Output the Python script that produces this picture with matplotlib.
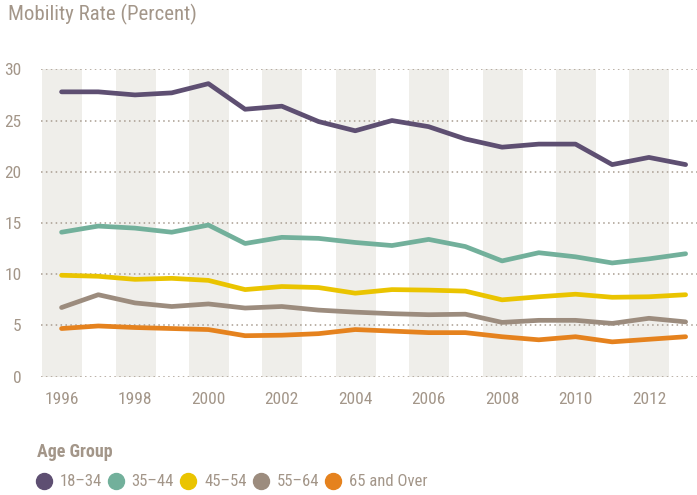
import matplotlib
matplotlib.use("Agg")
import matplotlib.pyplot as plt
from matplotlib.lines import Line2D

years = list(range(1996, 2014))
groups = ["18–34", "35–44", "45–54", "55–64", "65 and Over"]
rate_18_34 = [27.8, 27.8, 27.5, 27.7, 28.6, 26.1, 26.4, 24.9, 24.0, 25.0,
              24.4, 23.2, 22.4, 22.7, 22.7, 20.7, 21.4, 20.7]
rate_35_44 = [14.1, 14.7, 14.5, 14.1, 14.8, 13.0, 13.6, 13.5, 13.1, 12.8,
              13.4, 12.7, 11.3, 12.1, 11.7, 11.1, 11.5, 12.0]
rate_45_54 = [9.9, 9.8, 9.5, 9.6, 9.4, 8.5, 8.8, 8.7, 8.15, 8.5,
              8.45, 8.35, 7.5, 7.8, 8.05, 7.75, 7.8, 8.0]
rate_55_64 = [6.75, 8.0, 7.2, 6.85, 7.1, 6.7, 6.85, 6.5, 6.3, 6.15,
              6.05, 6.1, 5.3, 5.5, 5.5, 5.2, 5.7, 5.35]
rate_65_up = [4.7, 4.95, 4.8, 4.7, 4.6, 4.0, 4.05, 4.2, 4.6, 4.45,
              4.3, 4.3, 3.9, 3.6, 3.9, 3.4, 3.65, 3.9]
series = [rate_18_34, rate_35_44, rate_45_54, rate_55_64, rate_65_up]
colors = ["#5e4f72", "#72b09b", "#eac400", "#9c8c7e", "#e5821e"]
xticks = list(range(1996, 2013, 2))
yticks = [0, 5, 10, 15, 20, 25, 30]

txt = "#a39689"
band = "#efeeea"
plt.rcParams["font.family"] = ["Roboto Condensed", "Open Sans Condensed",
                               "DejaVu Sans"]
plt.rcParams["font.stretch"] = "condensed"

fig = plt.figure(figsize=(6.97, 4.95), dpi=100)
ax = fig.add_axes([41 / 697, 0.239, 1 - 41 / 697, 0.621])

# shaded columns behind even years
for yr in xticks:
    ax.axvspan(yr - 0.53, yr + 0.56, color=band, lw=0, zorder=0)

for y in yticks:
    ax.axhline(y, color="#a89c90", lw=1.1, ls=(0, (1, 2.2)), zorder=1)

for vals, c in zip(series, colors):
    ax.plot(years, vals, color=c, lw=3.4, solid_capstyle="round",
            solid_joinstyle="round", zorder=3)

ax.set_xlim(1995.44, 2013.31)
ax.set_ylim(0, 30)
ax.set_xticks(xticks)
ax.set_yticks(yticks)
ax.tick_params(axis="both", length=0, labelsize=12.5, colors=txt)
ax.tick_params(axis="x", pad=11)
ax.tick_params(axis="y", pad=14)
for s in ax.spines.values():
    s.set_visible(False)

fig.text(8 / 697, 1 - 4 / 495, "Mobility Rate (Percent)", color=txt,
         fontsize=15, ha="left", va="top")

handles = [Line2D([], [], marker="o", ls="", markersize=11.5, color=c)
           for c in colors]
leg = fig.legend(handles, groups, loc="upper left",
                 bbox_to_anchor=(37 / 697, 1 - 443 / 495), ncol=5,
                 frameon=False, borderpad=0, borderaxespad=0,
                 handlelength=0.8, handletextpad=0.55, columnspacing=0.45,
                 labelspacing=0.8, fontsize=12, title="Age Group",
                 alignment="left",
                 title_fontproperties={"weight": "bold", "size": 13,
                                       "stretch": "condensed"})
leg.get_title().set_color(txt)
for t in leg.get_texts():
    t.set_color(txt)

fig.savefig("out.png", dpi=100)
